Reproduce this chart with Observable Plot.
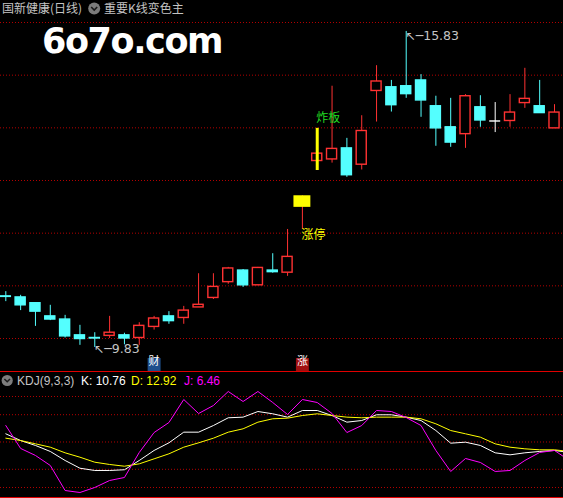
<!DOCTYPE html>
<html><head><meta charset="utf-8">
<script src="https://cdn.jsdelivr.net/npm/d3@7"></script>
<script src="https://cdn.jsdelivr.net/npm/@observablehq/plot@0.6"></script>
<style>
html,body{margin:0;padding:0;background:#000;}
#wrap{position:relative;width:563px;height:498px;background:#000;overflow:hidden;}
#price{position:absolute;left:0;top:0;width:563px;height:371px;overflow:hidden;}
#kdj{position:absolute;left:0;top:372px;width:563px;height:126px;overflow:hidden;}
#overlay{position:absolute;left:0;top:0;pointer-events:none;}
#mark{position:absolute;left:42px;top:20.6px;height:26px;line-height:26px;color:#fff;font:bold 35px "DejaVu Sans";letter-spacing:-1.4px;white-space:nowrap;}
.sep{position:absolute;left:0;width:563px;height:1px;background:#e00000;}
</style></head><body>
<div id="wrap">
  <div id="price"></div>
  <div id="kdj"></div>
  <div class="sep" style="top:371px"></div>
  <div class="sep" style="top:497px"></div>
  <div id="mark">6o7o.com</div>
  <svg id="overlay" width="563" height="498">
    <text x="2" y="12.5" fill="#c4c4c4" font-size="12" font-family="Noto Sans CJK SC">国新健康(日线)</text>
    <circle cx="94.2" cy="8.5" r="6" fill="#7c7c7c"/>
    <polyline points="91.2,7 94.2,10 97.2,7" fill="none" stroke="#1a1a1a" stroke-width="1.6"/>
    <text x="104" y="12.5" fill="#c4c4c4" font-size="12" font-family="Noto Sans CJK SC">重要K线变色主</text>
    <circle cx="7.2" cy="380.5" r="5.6" fill="#7c7c7c"/>
    <polyline points="4.4,379 7.2,381.8 10,379" fill="none" stroke="#1a1a1a" stroke-width="1.5"/>
    <text x="17" y="384.5" fill="#c4c4c4" font-size="12" font-family="Liberation Sans">KDJ(9,3,3)</text>
    <text x="81" y="384.5" fill="#ffffff" font-size="12" font-family="Liberation Sans">K: 10.76</text>
    <text x="131" y="384.5" fill="#ffff00" font-size="12" font-family="Liberation Sans">D: 12.92</text>
    <text x="184" y="384.5" fill="#ff00ff" font-size="12" font-family="Liberation Sans">J: 6.46</text>
  </svg>
</div>
<script>
// ---- data ----
const open  = [10.80,10.78,10.67,10.42,10.36,10.06,10.01,10.05,10.06,10.01,10.22,10.42,10.39,10.59,10.77,11.07,11.29,11.01,11.29,11.25,12.49,13.37,13.40,13.61,13.30,14.70,14.77,14.79,14.90,14.41,14.01,13.88,14.39,14.13,14.13,14.47,14.41,13.99];
const high  = [10.89,10.82,10.67,10.63,10.44,10.25,10.11,10.42,10.10,10.30,10.42,10.51,10.61,11.23,11.23,11.35,11.31,11.35,11.61,12.07,12.71,13.99,14.79,13.80,14.23,15.18,14.90,15.83,15.01,14.60,14.56,14.63,14.61,14.48,14.63,15.13,14.90,14.44];
const low   = [10.70,10.53,10.23,10.34,10.01,9.87,9.83,10.00,9.88,9.87,10.16,10.27,10.27,10.59,10.74,11.03,10.97,11.01,11.24,11.18,12.07,13.19,13.33,13.06,13.20,14.11,14.30,14.56,14.20,13.65,13.63,13.61,14.01,13.91,14.01,14.37,14.28,13.99];
const close = [10.79,10.63,10.51,10.36,10.04,9.99,10.00,10.11,10.00,10.24,10.38,10.33,10.53,10.64,10.98,11.33,11.01,11.34,11.26,11.55,12.71,13.51,13.60,13.10,13.94,14.88,14.43,14.64,14.52,13.99,13.72,14.60,14.14,14.13,14.29,14.55,14.28,14.29];

const kdjK = [59.0,51.6,46.2,39.6,29.7,21.2,18.7,18.7,19.5,29.7,40.7,49.1,60.8,60.8,68.1,76.6,77.3,83.5,81.0,77.3,84.6,84.6,79.1,71.8,73.6,79.9,79.9,77.3,73.6,62.6,48.7,49.8,46.2,38.1,35.9,38.1,39.6,40.7,38.5];
const kdjD = [54.2,51.6,48.0,44.3,38.1,33.3,27.8,25.3,23.4,26.0,31.5,37.0,44.3,49.1,54.2,60.8,64.5,71.8,75.5,76.2,79.1,81.0,79.1,77.3,76.6,77.3,77.3,77.3,75.5,70.0,62.6,59.0,55.3,48.0,44.3,42.5,41.4,41.4,39.6];
const kdjJ = [68.1,42.9,35.2,24.2,-3.3,-5.5,0.0,7.7,11.0,38.5,60.4,71.4,96.7,81.3,90.1,105.5,94.5,105.5,93.4,80.2,96.7,93.4,81.3,60.4,68.1,84.6,83.5,76.9,68.1,40.7,17.6,31.9,27.5,17.6,18.7,29.7,38.5,40.7,29.7];

const priceGrid = [10,11,12,13,14,15,16];
const kdjGrid = [0,20,50,80,100];

const limitUp = 20;      // 涨停
const brokenBoard = 21;  // 炸板
const highIdx = 27, highText = "15.83";
const lowIdx = 6, lowText = "9.83";
const badges = [
  {i:10, text:"财", color:"#1f4f8c"},
  {i:20, text:"涨", color:"#a01010"}
];

// ---- styling ----
const RED = "#ff3232", CYAN = "#54ffff", WHITE = "#ffffff", GRID = "#b40000";
const idx = d3.range(open.length);
const kIdx = d3.range(kdjK.length);
const xDomain = [-5.3/14.83, (563-5.3)/14.83];
const col = i => close[i] > open[i] ? RED : close[i] < open[i] ? CYAN : WHITE;
const normal = idx.filter(i => i !== limitUp);
const doji = idx.filter(i => close[i] === open[i]);
const HW = 0.34;

const price = Plot.plot({
  width:563, height:371, margin:0,
  x:{domain:xDomain, axis:null},
  y:{domain:[9.3735,16.4177], axis:null},
  color:{type:"identity"},
  style:{background:"#000", overflow:"hidden"},
  marks:[
    Plot.ruleY(priceGrid, {stroke:GRID, strokeDasharray:"1,2"}),
    Plot.ruleX(idx, {x:i=>i, y1:i=>low[i], y2:i=>high[i], stroke:i=> i===limitUp ? RED : col(i)}),
    Plot.rect(normal, {x1:i=>i-HW, x2:i=>i+HW, y1:i=>open[i], y2:i=>close[i],
      fill:i=> close[i] > open[i] ? "#000" : col(i), stroke:col, strokeWidth:1.4}),
    Plot.ruleY(doji, {y:i=>close[i], x1:i=>i-HW-0.03, x2:i=>i+HW+0.03, stroke:col, strokeWidth:1.4}),
    Plot.rect([limitUp], {x1:i=>i-0.57, x2:i=>i+0.57, y1:i=>open[i], y2:i=>close[i], fill:"#ffff00"}),
    Plot.ruleX([brokenBoard], {x:i=>i, y1:i=>low[i], y2:i=>high[i], stroke:"#ffff00", strokeWidth:3}),
    Plot.text([brokenBoard], {x:i=>i, y:i=>high[i], text:()=>"炸板", textAnchor:"start", dx:-1, dy:-10,
      fill:"#22dd22", fontSize:12, fontFamily:"Noto Sans CJK SC"}),
    Plot.text([limitUp], {x:i=>i, y:i=>low[i], text:()=>"涨停", textAnchor:"start", dx:-1, dy:6,
      fill:"#ffff00", fontSize:12, fontFamily:"Noto Sans CJK SC"}),
    Plot.text([highIdx], {x:i=>i, y:i=>high[i], text:()=>"↖─" + highText, textAnchor:"start", dx:-1, dy:5,
      fill:"#c4c4c4", fontSize:12.5, fontFamily:"DejaVu Sans"}),
    Plot.text([lowIdx], {x:i=>i, y:i=>low[i], text:()=>"↖─" + lowText, textAnchor:"start", dx:-1, dy:2,
      fill:"#c4c4c4", fontSize:12.5, fontFamily:"DejaVu Sans"}),
    Plot.dot(badges, {x:"i", frameAnchor:"bottom", dy:-7, symbol:"square", r:7.3, fill:"color"}),
    Plot.text(badges, {x:"i", frameAnchor:"bottom", dy:-7, text:"text", fill:"#ffffff", fontSize:11, fontFamily:"Noto Sans CJK SC"})
  ]
});
document.getElementById("price").appendChild(price);

const kdj = Plot.plot({
  width:563, height:126, margin:0,
  x:{domain:xDomain, axis:null},
  y:{domain:[-12.09,126.37], axis:null},
  style:{background:"#000", overflow:"hidden"},
  marks:[
    Plot.ruleY(kdjGrid, {stroke:GRID, strokeDasharray:"1,2"}),
    Plot.line(kIdx, {x:i=>i, y:i=>kdjK[i], stroke:"#ffffff", strokeWidth:1}),
    Plot.line(kIdx, {x:i=>i, y:i=>kdjD[i], stroke:"#ffff00", strokeWidth:1}),
    Plot.line(kIdx, {x:i=>i, y:i=>kdjJ[i], stroke:"#ff00ff", strokeWidth:1})
  ]
});
document.getElementById("kdj").appendChild(kdj);
</script>
</body></html>
